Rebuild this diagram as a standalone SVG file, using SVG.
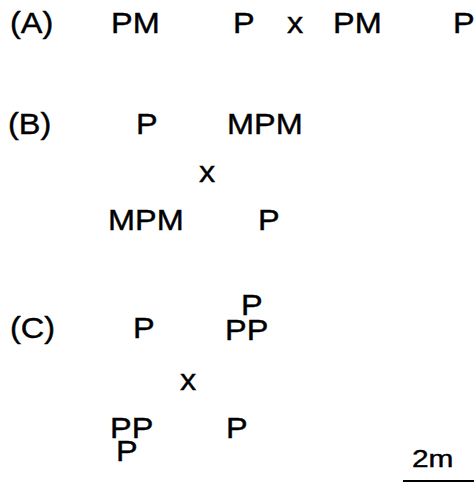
<svg xmlns="http://www.w3.org/2000/svg" width="474" height="483" viewBox="0 0 474 483">
  <style>
    text { font-family: "Liberation Sans", Arial, sans-serif; font-size: 29px; fill: #000; stroke: #000; stroke-width: 0.4; }
    .sm { font-size: 23px; }
  </style>
  <rect width="474" height="483" fill="#fff"/>
  <!-- (A) row -->
  <g id="row-a">
    <text transform="translate(10 33) scale(1.12 1)">(A)</text>
    <text transform="translate(111 33) scale(1.12 1)">PM</text>
    <text transform="translate(233 33) scale(1.12 1)">P</text>
    <text transform="translate(287 33) scale(1.12 1)">x</text>
    <text transform="translate(333 33) scale(1.12 1)">PM</text>
    <text transform="translate(453 33) scale(1.12 1)">P</text>
  </g>
  <!-- (B) arrangement -->
  <g id="row-b">
    <text transform="translate(8 134) scale(1.12 1)">(B)</text>
    <text transform="translate(136 134) scale(1.12 1)">P</text>
    <text transform="translate(227 134) scale(1.12 1)">MPM</text>
    <text transform="translate(199 182) scale(1.12 1)">x</text>
    <text transform="translate(108 230) scale(1.12 1)">MPM</text>
    <text transform="translate(258 230) scale(1.12 1)">P</text>
  </g>
  <!-- (C) arrangement -->
  <g id="row-c">
    <text transform="translate(10 338) scale(1.12 1)">(C)</text>
    <text transform="translate(133 338) scale(1.12 1)">P</text>
    <text transform="translate(241 315) scale(1.12 1)">P</text>
    <text transform="translate(225 340) scale(1.12 1)">PP</text>
    <text transform="translate(180 390) scale(1.12 1)">x</text>
    <text transform="translate(110 438) scale(1.12 1)">PP</text>
    <text transform="translate(116 461) scale(1.12 1)">P</text>
    <text transform="translate(226 438) scale(1.12 1)">P</text>
  </g>
  <!-- scale bar -->
  <g id="scale">
    <text class="sm" transform="translate(412 467) scale(1.3 1)">2m</text>
    <line x1="403" y1="481" x2="474" y2="481" stroke="#000" stroke-width="2"/>
  </g>
</svg>
